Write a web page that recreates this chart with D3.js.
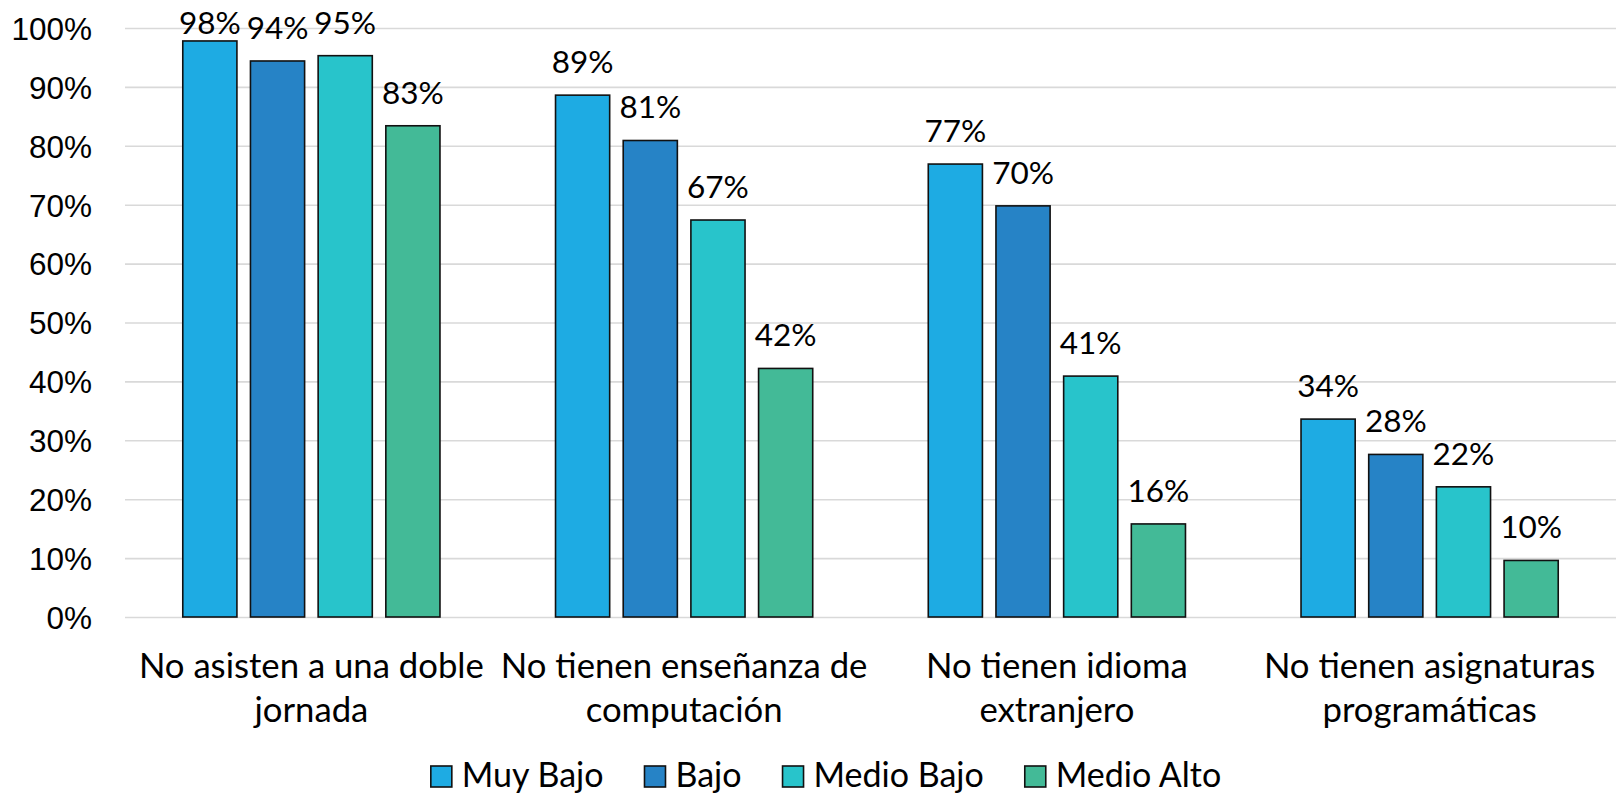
<!DOCTYPE html>
<html>
<head>
<meta charset="utf-8">
<script src="https://cdn.jsdelivr.net/npm/d3@7"></script>
<style>
  html, body { margin: 0; padding: 0; background: #fff; }
  svg { display: block; font-family: Lato, "Open Sans", sans-serif; }
</style>
</head>
<body>
<svg id="chart" width="1622" height="795"></svg>
<script>
// categories, split into the two lines they show under the axis
const categories = [
  ["No asisten a una doble", "jornada"],
  ["No tienen enseñanza de", "computación"],
  ["No tienen idioma", "extranjero"],
  ["No tienen asignaturas", "programáticas"]
];
const seriesNames = ["Muy Bajo", "Bajo", "Medio Bajo", "Medio Alto"];
const muyBajo   = [0.978, 0.886, 0.769, 0.336];
const bajo      = [0.944, 0.809, 0.698, 0.276];
const medioBajo = [0.953, 0.674, 0.409, 0.221];
const medioAlto = [0.834, 0.422, 0.158, 0.096];
const yTicks = [0, 0.1, 0.2, 0.3, 0.4, 0.5, 0.6, 0.7, 0.8, 0.9, 1];
const colors = ["#1eabe3", "#2683c6", "#28c4cb", "#43ba97"];

const series = [muyBajo, bajo, medioBajo, medioAlto];

const svg = d3.select("#chart");
const margin = {top: 28, right: 6, bottom: 178, left: 125},
      width = 1622 - margin.left - margin.right,
      height = 795 - margin.top - margin.bottom;

const g = svg.append("g").attr("transform", `translate(${margin.left},${margin.top})`);

const x0 = d3.scaleBand().domain(d3.range(categories.length)).range([0, width]);
const groupW = x0.bandwidth() * 0.69;
const x1 = d3.scaleBand().domain(d3.range(seriesNames.length))
    .range([(x0.bandwidth() - groupW) / 2, (x0.bandwidth() + groupW) / 2])
    .paddingInner(0.2);
const y = d3.scaleLinear().domain([0, 1]).range([height, 0]);

// gridlines + tick labels
const yAxis = g.append("g")
    .call(d3.axisLeft(y).tickValues(yTicks).tickFormat(d3.format(".0%")).tickSize(-width).tickPadding(33));
yAxis.select(".domain").remove();
yAxis.selectAll(".tick line").attr("stroke", "#d9d9d9").attr("stroke-width", 1.6);
yAxis.selectAll(".tick text")
    .attr("fill", "#000")
    .style("font-size", "31.5px")
    .attr("dy", "0.36em");

// bars
const groups = g.selectAll(".group")
    .data(categories)
  .enter().append("g")
    .attr("class", "group")
    .attr("transform", (d, i) => `translate(${x0(i)},0)`);

const cells = groups.selectAll(".cell")
    .data((d, i) => series.map((s, k) => ({k: k, v: s[i]})))
  .enter().append("g");

cells.append("rect")
    .attr("x", d => x1(d.k))
    .attr("y", d => y(d.v))
    .attr("width", x1.bandwidth())
    .attr("height", d => height - y(d.v))
    .attr("fill", d => colors[d.k])
    .attr("stroke", "#111")
    .attr("stroke-width", 1.6);

cells.append("text")
    .attr("x", d => x1(d.k) + x1.bandwidth() / 2)
    .attr("y", d => Math.max(y(d.v) - 22, 6))
    .attr("text-anchor", "middle")
    .style("font-size", "31.5px")
    .attr("fill", "#000")
    .text(d => Math.round(d.v * 100) + "%");

// category labels
const catLabels = g.selectAll(".cat")
    .data(categories)
  .enter().append("text")
    .attr("class", "cat")
    .attr("x", (d, i) => x0(i) + x0.bandwidth() / 2)
    .attr("y", height + 61)
    .attr("text-anchor", "middle")
    .style("font-size", "34.7px")
    .attr("fill", "#000");
catLabels.selectAll("tspan")
    .data(d => d)
  .enter().append("tspan")
    .attr("x", function() { return this.parentNode.getAttribute("x"); })
    .attr("dy", (d, i) => i ? 44 : 0)
    .text(d => d);

// legend
const legend = svg.append("g").attr("transform", "translate(0,787)");
const items = legend.selectAll(".item")
    .data(seriesNames)
  .enter().append("g")
    .attr("class", "item");
items.append("rect")
    .attr("y", -21).attr("width", 21).attr("height", 21)
    .attr("fill", (d, i) => colors[i])
    .attr("stroke", "#111").attr("stroke-width", 1.6);
items.append("text")
    .attr("x", 31)
    .style("font-size", "34px")
    .attr("fill", "#000")
    .text(d => d);

let pos = 0;
const offsets = [];
items.each(function() {
  offsets.push(pos);
  pos += 31 + this.querySelector("text").getComputedTextLength() + 41;
});
const legendW = pos - 41;
const start = 826 - legendW / 2;
items.attr("transform", (d, i) => `translate(${start + offsets[i]},0)`);
</script>
</body>
</html>
